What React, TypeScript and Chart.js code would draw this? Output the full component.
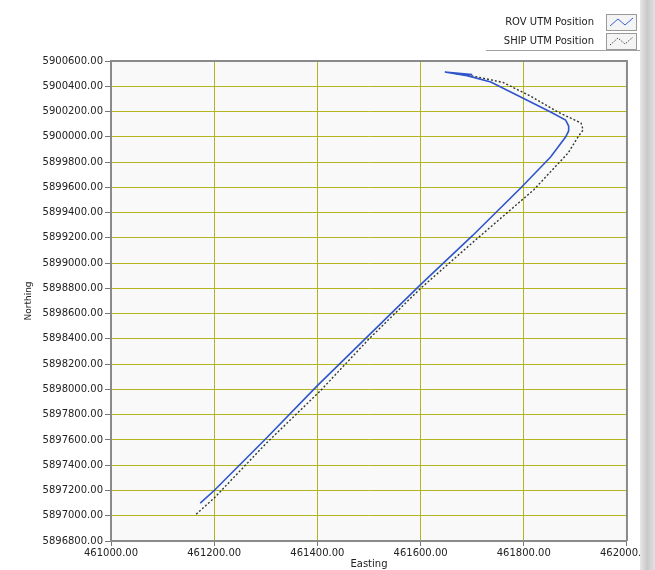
import React, { useEffect, useRef } from "react";
import { Chart, registerables } from "chart.js";

Chart.register(...registerables);

const rovEasting = [461700, 461647, 461690, 461736, 461794, 461852, 461881, 461887, 461887, 461881, 461852, 461794, 461700, 461600, 461500, 461400, 461300, 461200, 461173];
const rovNorthing = [5900492, 5900513, 5900484, 5900434, 5900315, 5900196, 5900133, 5900085, 5900046, 5899998, 5899840, 5899595, 5899215, 5898830, 5898430, 5898030, 5897610, 5897200, 5897100];

const shipEasting = [461660, 461700, 461760, 461815, 461866, 461911, 461915, 461905, 461886, 461819, 461700, 461600, 461500, 461406, 461300, 461200, 461163];
const shipNorthing = [5900505, 5900482, 5900430, 5900318, 5900196, 5900109, 5900054, 5899998, 5899872, 5899579, 5899160, 5898800, 5898400, 5897990, 5897570, 5897140, 5897005];

const xTicks = [461000, 461200, 461400, 461600, 461800, 462000];
const yTicks = [5896800, 5897000, 5897200, 5897400, 5897600, 5897800, 5898000, 5898200, 5898400, 5898600, 5898800, 5899000, 5899200, 5899400, 5899600, 5899800, 5900000, 5900200, 5900400, 5900600];
const legendLabels = ["ROV UTM Position", "SHIP UTM Position"];

const FONT = "'DejaVu Sans', Verdana, sans-serif";

const decorPlugin = {
  id: "decor",
  beforeDraw(chart: any) {
    const { ctx, chartArea } = chart;
    ctx.save();
    ctx.fillStyle = "#ffffff";
    ctx.fillRect(0, 0, chart.width, chart.height);
    ctx.fillStyle = "#f9f9f9";
    ctx.fillRect(chartArea.left, chartArea.top, chartArea.right - chartArea.left, chartArea.bottom - chartArea.top);
    ctx.restore();
  },
  afterDraw(chart: any) {
    const { ctx, chartArea } = chart;
    ctx.save();
    // plot frame (top and right)
    ctx.strokeStyle = "#8a8a8a";
    ctx.lineWidth = 2;
    ctx.beginPath();
    ctx.moveTo(chartArea.left, chartArea.top);
    ctx.lineTo(chartArea.right, chartArea.top);
    ctx.lineTo(chartArea.right, chartArea.bottom);
    ctx.stroke();
    // right gradient bar
    const g = ctx.createLinearGradient(639, 0, 655, 0);
    g.addColorStop(0, "#ececec");
    g.addColorStop(0.5, "#c8c8c8");
    g.addColorStop(1, "#e2e2e2");
    ctx.fillStyle = g;
    ctx.fillRect(640, 0, 15, chart.height);
    // legend frame line
    ctx.strokeStyle = "#a0a0a0";
    ctx.lineWidth = 1;
    ctx.beginPath();
    ctx.moveTo(486, 50.5);
    ctx.lineTo(640, 50.5);
    ctx.stroke();
    // legend entries
    ctx.font = "10px " + FONT;
    ctx.fillStyle = "#222";
    ctx.textAlign = "right";
    ctx.textBaseline = "middle";
    ctx.fillText(legendLabels[0], 594, 22);
    ctx.fillText(legendLabels[1], 594, 41);
    // icon boxes
    const boxes = [14, 33];
    boxes.forEach((y, i) => {
      ctx.fillStyle = "#f4f4f4";
      ctx.fillRect(606, y, 30, 16);
      ctx.strokeStyle = "#9a9a9a";
      ctx.lineWidth = 1;
      ctx.strokeRect(606.5, y + 0.5, 30, 16);
      ctx.beginPath();
      ctx.moveTo(610, y + 12);
      ctx.lineTo(618, y + 5);
      ctx.lineTo(625, y + 11);
      ctx.lineTo(633, y + 4);
      if (i === 0) {
        ctx.strokeStyle = "#3b5fd0";
        ctx.setLineDash([]);
      } else {
        ctx.strokeStyle = "#404040";
        ctx.setLineDash([1.5, 1.5]);
      }
      ctx.stroke();
      ctx.setLineDash([]);
    });
    ctx.restore();
  },
};

export default function App() {
  const ref = useRef<HTMLCanvasElement | null>(null);
  useEffect(() => {
    if (!ref.current) return;
    const rovData = rovEasting.map((x, i) => ({ x, y: rovNorthing[i] }));
    const shipData = shipEasting.map((x, i) => ({ x, y: shipNorthing[i] }));
    const chart = new Chart(ref.current, {
      type: "scatter",
      data: {
        datasets: [
          {
            label: legendLabels[0],
            data: rovData,
            showLine: true,
            borderColor: "#2f55cc",
            borderWidth: 1.6,
            pointRadius: 0,
            tension: 0,
          },
          {
            label: legendLabels[1],
            data: shipData,
            showLine: true,
            borderColor: "#303a30",
            borderWidth: 1.4,
            borderDash: [2, 2],
            pointRadius: 0,
            tension: 0,
          },
        ],
      },
      options: {
        animation: false,
        responsive: false,
        devicePixelRatio: 1,
        layout: { padding: { top: 61, right: 28, left: 0, bottom: 0 } },
        plugins: { legend: { display: false }, tooltip: { enabled: false } },
        scales: {
          x: {
            type: "linear",
            min: 461000,
            max: 462000,
            afterBuildTicks: (s: any) => {
              s.ticks = xTicks.map((v) => ({ value: v }));
            },
            afterFit: (s: any) => {
              s.height = 29;
            },
            ticks: {
              callback: (v: any) => Number(v).toFixed(2),
              font: { family: FONT, size: 10 },
              color: "#222",
              maxRotation: 0,
              padding: 1,
            },
            title: {
              display: true,
              text: "Easting",
              font: { family: FONT, size: 10 },
              color: "#222",
              padding: { top: 0, bottom: 0 },
            },
            grid: {
              color: "#b4b41e",
              lineWidth: 1,
              tickColor: "#777",
              tickLength: 5,
            },
            border: { color: "#8a8a8a", width: 2 },
          },
          y: {
            type: "linear",
            min: 5896800,
            max: 5900600,
            afterBuildTicks: (s: any) => {
              s.ticks = yTicks.map((v) => ({ value: v }));
            },
            afterFit: (s: any) => {
              s.width = 111;
            },
            ticks: {
              callback: (v: any) => Number(v).toFixed(2),
              font: { family: FONT, size: 10 },
              color: "#222",
              padding: 2,
            },
            title: {
              display: true,
              text: "Northing",
              font: { family: FONT, size: 9 },
              color: "#222",
              padding: { top: 23, bottom: 0 },
            },
            grid: {
              color: "#b4b41e",
              lineWidth: 1,
              tickColor: "#777",
              tickLength: 6,
            },
            border: { color: "#8a8a8a", width: 2 },
          },
        },
      },
      plugins: [decorPlugin],
    });
    return () => chart.destroy();
  }, []);
  return (
    <div style={{ position: "absolute", left: 0, top: 0, width: 655, height: 570 }}>
      <canvas ref={ref} width={655} height={570} style={{ width: 655, height: 570, display: "block" }} />
    </div>
  );
}
